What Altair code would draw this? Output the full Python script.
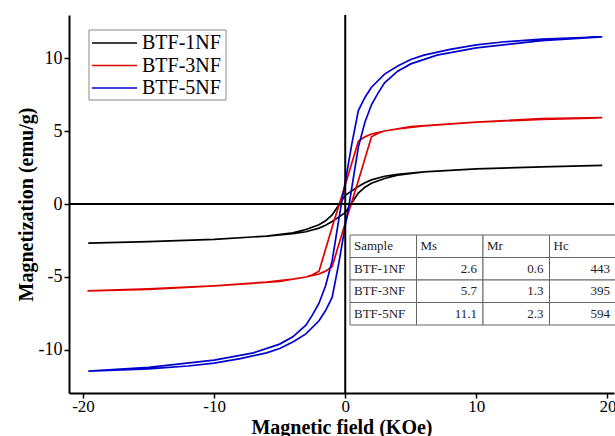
import altair as alt
import pandas as pd

names = ["BTF-1NF", "BTF-3NF", "BTF-5NF"]
colors = ["#000000", "#e00000", "#0000d0"]

# ---- hysteresis loops: descending branch (+H -> -H) then ascending (-H -> +H)
b1_desc_x = [19.6, 15, 10, 6, 4, 3, 2, 1.5, 1, 0.5, 0, -0.44, -1, -1.5, -2, -3, -4, -6, -10, -15, -19.6]
b1_desc_y = [2.65, 2.55, 2.4, 2.2, 2.03, 1.9, 1.65, 1.45, 1.2, 0.9, 0.6, 0.0, -0.75, -1.15, -1.42, -1.75, -1.97, -2.2, -2.42, -2.58, -2.68]
b1_asc_x = [-19.6, -15, -10, -6, -4, -3, -2, -1.5, -1, -0.5, 0, 0.44, 1, 1.5, 2, 3, 4, 6, 10, 15, 19.6]
b1_asc_y = [-2.68, -2.58, -2.42, -2.2, -2.03, -1.9, -1.65, -1.45, -1.2, -0.9, -0.6, 0.0, 0.75, 1.15, 1.42, 1.75, 1.97, 2.2, 2.4, 2.55, 2.65]

b3_desc_x = [19.6, 15, 10, 6, 4, 3, 2, 1.5, 1.0, 0, -0.45, -1.0, -2.0, -2.5, -3, -5, -10, -15, -19.6]
b3_desc_y = [5.9, 5.8, 5.6, 5.35, 5.15, 5.0, 4.8, 4.6, 4.3, 1.3, 0.0, -1.6, -4.6, -4.85, -5.0, -5.3, -5.62, -5.85, -5.96]
b3_asc_x = [-19.6, -15, -10, -6, -4, -3, -2, -1.5, -1.0, 0, 0.45, 1.0, 2.0, 2.5, 3, 5, 10, 15, 19.6]
b3_asc_y = [-5.95, -5.82, -5.6, -5.35, -5.15, -5.0, -4.8, -4.6, -4.3, -1.3, 0.0, 1.6, 4.6, 4.85, 5.0, 5.3, 5.62, 5.85, 5.92]

b5_desc_x = [19.6, 15, 12, 10, 8, 6, 5, 4, 3, 2, 1.5, 1, 0.5, 0, -0.3, -1, -1.5, -2, -2.5, -3, -4, -5, -7, -10, -15, -19.6]
b5_desc_y = [11.45, 11.3, 11.1, 10.9, 10.6, 10.2, 9.9, 9.45, 8.9, 8.0, 7.3, 6.4, 4.1, 1.5, 0.0, -3.9, -5.6, -6.8, -7.6, -8.3, -9.1, -9.6, -10.2, -10.7, -11.2, -11.45]
b5_asc_x = [-19.6, -15, -12, -10, -8, -6, -5, -4, -3, -2, -1.5, -1, -0.5, 0, 0.3, 1, 1.5, 2, 2.5, 3, 4, 5, 7, 10, 15, 19.6]
b5_asc_y = [-11.45, -11.3, -11.1, -10.9, -10.6, -10.2, -9.9, -9.45, -8.9, -8.0, -7.3, -6.4, -4.1, -1.5, 0.0, 3.9, 5.6, 6.8, 7.6, 8.3, 9.1, 9.6, 10.2, 10.7, 11.2, 11.45]

# ---- inset table
tbl_header = ["Sample", "Ms", "Mr", "Hc"]
tbl_Ms = [2.6, 5.7, 11.1]
tbl_Mr = [0.6, 1.3, 2.3]
tbl_Hc = [443, 395, 594]

x_ticks = [-20, -10, 0, 10, 20]
y_ticks = [-10, -5, 0, 5, 10]

FONT = "Liberation Serif"
W, H = 545, 378

rows = []
series = [
    (names[0], b1_desc_x + b1_asc_x, b1_desc_y + b1_asc_y),
    (names[1], b3_desc_x + b3_asc_x, b3_desc_y + b3_asc_y),
    (names[2], b5_desc_x + b5_asc_x, b5_desc_y + b5_asc_y),
]
for name, xs, ys in series:
    for i, (xv, yv) in enumerate(zip(xs, ys)):
        rows.append({"sample": name, "H": xv, "M": yv, "i": i})
df = pd.DataFrame(rows)

xscale = alt.Scale(domain=[-21.07, 20.5], nice=False, zero=False)
yscale = alt.Scale(domain=[-12.95, 12.95], nice=False, zero=False)

axis_common = dict(grid=False, domainWidth=2, domainColor="black", tickColor="black",
                   tickWidth=1.5, tickSize=5, labelFont=FONT,
                   labelColor="black", titleFont=FONT, titleFontSize=20,
                   titleFontWeight="bold", titleColor="black", labelFlush=False,
                   labelExpr="'' + datum.value")

lines = alt.Chart(df).mark_line(strokeWidth=1.7).encode(
    x=alt.X("H:Q", scale=xscale,
            axis=alt.Axis(values=x_ticks, title="Magnetic field (KOe)", labelPadding=0,
                          labelFontSize=17, titlePadding=3, **axis_common)),
    y=alt.Y("M:Q", scale=yscale,
            axis=alt.Axis(values=y_ticks, title="Magnetization (emu/g)", labelPadding=2,
                          labelFontSize=18, titlePadding=2, **axis_common)),
    color=alt.Color("sample:N", scale=alt.Scale(domain=names, range=colors), legend=None),
    detail="sample:N",
    order="i:Q",
)

zero_h = alt.Chart(pd.DataFrame({"v": [0]})).mark_rule(color="black", strokeWidth=2).encode(
    y=alt.Y("v:Q", scale=yscale))
zero_v = alt.Chart(pd.DataFrame({"v": [0]})).mark_rule(color="black", strokeWidth=2).encode(
    x=alt.X("v:Q", scale=xscale))

# ---- manual legend (pixel layout)
LEG_X0, LEG_X1, LEG_Y0, LEG_Y1 = 20, 157, 15, 85
leg_row0, leg_dy = 28, 22.5
leg = pd.DataFrame({
    "sample": names,
    "y": [leg_row0 + k * leg_dy for k in range(len(names))],
    "x0": [23] * 3, "x1": [68] * 3, "tx": [73] * 3,
})
leg_box = alt.Chart(pd.DataFrame({"x0": [LEG_X0], "x1": [LEG_X1], "y0": [LEG_Y0], "y1": [LEG_Y1]})).mark_rect(
    fill="white", stroke="#888888", strokeWidth=1).encode(
    x=alt.X("x0:Q", scale=None), x2="x1:Q", y=alt.Y("y0:Q", scale=None), y2="y1:Q")
leg_lines = alt.Chart(leg).mark_rule(strokeWidth=1.7).encode(
    x=alt.X("x0:Q", scale=None), x2="x1:Q", y=alt.Y("y:Q", scale=None),
    color=alt.Color("sample:N", scale=alt.Scale(domain=names, range=colors), legend=None))
leg_text = alt.Chart(leg).mark_text(font=FONT, fontSize=20, align="left", baseline="middle",
                                    color="black").encode(
    x=alt.X("tx:Q", scale=None), y=alt.Y("y:Q", scale=None), text="sample:N")

# ---- table (pixel layout)
col_edges = [281, 347.5, 414, 480.5, 547]
row_edges = [220, 242.5, 265, 287.5, 310]
cells = []
table_rows = [tbl_header] + [[names[k], f"{tbl_Ms[k]:.1f}", f"{tbl_Mr[k]:.1f}", str(tbl_Hc[k])]
                             for k in range(3)]
for r, vals in enumerate(table_rows):
    for c, txt in enumerate(vals):
        right = r > 0 and c > 0
        cells.append({
            "x0": col_edges[c], "x1": col_edges[c + 1],
            "y0": row_edges[r], "y1": row_edges[r + 1],
            "ym": (row_edges[r] + row_edges[r + 1]) / 2,
            "tx": col_edges[c + 1] - 6 if right else col_edges[c] + 4,
            "txt": txt, "right": right,
        })
cdf = pd.DataFrame(cells)
tbl_rect = alt.Chart(cdf).mark_rect(fill="white", stroke="#666666", strokeWidth=1).encode(
    x=alt.X("x0:Q", scale=None), x2="x1:Q", y=alt.Y("y0:Q", scale=None), y2="y1:Q")
tbl_left = alt.Chart(cdf[~cdf.right]).mark_text(font=FONT, fontSize=13, align="left",
                                                baseline="middle", color="#222222").encode(
    x=alt.X("tx:Q", scale=None), y=alt.Y("ym:Q", scale=None), text="txt:N")
tbl_right = alt.Chart(cdf[cdf.right]).mark_text(font=FONT, fontSize=13, align="right",
                                                baseline="middle", color="#222222").encode(
    x=alt.X("tx:Q", scale=None), y=alt.Y("ym:Q", scale=None), text="txt:N")

chart = alt.layer(
    lines, zero_h, zero_v, leg_box, leg_lines, leg_text, tbl_rect, tbl_left, tbl_right
).properties(
    width=W, height=H,
    padding={"left": 69, "top": 15, "right": 1, "bottom": 43},
    autosize=alt.AutoSizeParams(type="none"),
    background="white",
).configure_view(stroke=None)

chart.save("out.html", embed_options={"renderer": "svg", "actions": False})
